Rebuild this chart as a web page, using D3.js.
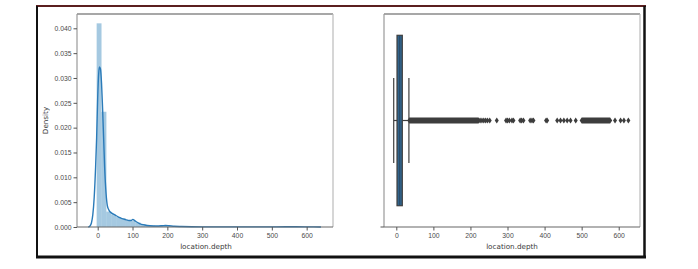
<!DOCTYPE html>
<html>
<head>
<meta charset="utf-8">
<script src="https://cdn.jsdelivr.net/npm/d3@7"></script>
<style>
  body { margin: 0; background: #fff; }
  svg { display: block; font-family: "DejaVu Sans", sans-serif; }
  .tick text { fill: #4a4a4a; font-size: 6.8px; }
  .tick line { stroke: #555; }
  .axis path.domain { display: none; }
  .lbl { fill: #3a3a3a; font-size: 7.2px; }
</style>
</head>
<body>
<svg id="chart" width="698" height="269"></svg>
<script>
// Histogram of location.depth (density per bin), bins start at -3 and are 14 wide
const binStart = -3;
const binWidth = 14;
const binDensity = [
  0.0410, 0.0232, 0.0031, 0.0025, 0.0020, 0.0017, 0.0014, 0.0012, 0.0009,
  0.0006, 0.0004, 0.0003, 0.0002, 0.0003, 0.0002, 0.0001, 0.0001, 0.00005,
  0.00004, 0.00004, 0.00003, 0.00003, 0.00003, 0.00003, 0.00002, 0.00002,
  0.00002, 0.00002, 0.00003, 0.00002, 0.00003, 0.00002, 0.00003, 0.00003,
  0.00003, 0.00004, 0.00006, 0.00007, 0.00007, 0.00006, 0.00006, 0.00004,
  0.00003, 0.00003, 0.00002
];

// KDE curve: [depth, density]
const kdeX = [-27, -22, -18, -14, -10, -6, -3, 0, 3, 5, 8, 11, 14, 17, 20, 24, 28, 33,
  40, 50, 60, 70, 80, 90, 96, 101, 106, 112, 120, 135, 150, 170, 185, 195, 205, 220,
  240, 270, 300, 350, 400, 450, 500, 540, 570, 600, 620, 641];
const kdeY = [0, 0.0002, 0.0008, 0.0025, 0.006, 0.012, 0.018, 0.026, 0.031, 0.0322,
  0.0318, 0.029, 0.024, 0.018, 0.012, 0.0068, 0.0042, 0.0033, 0.0028, 0.0024, 0.002,
  0.0017, 0.0015, 0.0013, 0.0013, 0.0015, 0.0013, 0.001, 0.0007, 0.0004, 0.00025,
  0.0002, 0.00025, 0.0003, 0.00025, 0.00015, 0.0001, 0.00005, 0.00003, 0.00002,
  0.00002, 0.00002, 0.00003, 0.00004, 0.00004, 0.00003, 0.00002, 0];

const yTicks = [0, 0.005, 0.010, 0.015, 0.020, 0.025, 0.030, 0.035, 0.040];
const xTicks = [0, 100, 200, 300, 400, 500, 600];

// Box plot summary
const boxStats = { whiskerLo: -7, q1: 1.9, median: 9, q3: 16.2, whiskerHi: 34 };
// outliers: dense runs (markers overlap into a band) and single points
const outlierRuns = [[35, 222], [500, 577]];
const outlierPoints = [226, 231, 236, 241, 246, 252, 271, 296, 300, 305, 312, 316,
  334, 338, 343, 361, 366, 370, 404, 407, 434, 443, 452, 461, 470, 484, 590, 605,
  614, 626];

const svg = d3.select('#chart');

// outer frame of the screenshot
svg.append('line').attr('x1', 36).attr('x2', 646).attr('y1', 6).attr('y2', 6)
  .attr('stroke', '#5b1f1f').attr('stroke-width', 2);
svg.append('line').attr('x1', 37).attr('x2', 37).attr('y1', 6).attr('y2', 258)
  .attr('stroke', '#111').attr('stroke-width', 2);
svg.append('line').attr('x1', 644.5).attr('x2', 644.5).attr('y1', 6).attr('y2', 258)
  .attr('stroke', '#111').attr('stroke-width', 2.5);
svg.append('line').attr('x1', 36).attr('x2', 646).attr('y1', 257).attr('y2', 257)
  .attr('stroke', '#111').attr('stroke-width', 3);

function spines(g, x0, x1, y0, y1) {
  g.append('line').attr('x1', x0).attr('x2', x1).attr('y1', y0).attr('y2', y0)
    .attr('stroke', '#8a8a8a').attr('stroke-width', 1.5);
  g.append('line').attr('x1', x1).attr('x2', x1).attr('y1', y0).attr('y2', y1)
    .attr('stroke', '#bbb').attr('stroke-width', 1.2);
  g.append('line').attr('x1', x0).attr('x2', x0).attr('y1', y0).attr('y2', y1)
    .attr('stroke', '#999').attr('stroke-width', 1.2);
  g.append('line').attr('x1', x0).attr('x2', x1).attr('y1', y1).attr('y2', y1)
    .attr('stroke', '#666').attr('stroke-width', 1.2);
}

function drawDist() {
  const L = 77, R = 333, T = 14, B = 227;
  const x = d3.scaleLinear().domain([-59.4, 675.6]).range([L, R]);
  const y = d3.scaleLinear().domain([0, 0.04288]).range([B, T]);
  const g = svg.append('g');

  g.selectAll('rect.bar').data(binDensity).join('rect')
    .attr('class', 'bar')
    .attr('x', (d, i) => x(binStart + i * binWidth))
    .attr('width', (d, i) => x(binStart + (i + 1) * binWidth) - x(binStart + i * binWidth))
    .attr('y', d => y(d))
    .attr('height', d => B - y(d))
    .attr('fill', '#1f77b4').attr('fill-opacity', 0.4);

  const kde = kdeX.map((v, i) => [v, kdeY[i]]);
  g.append('path').datum(kde)
    .attr('d', d3.line().x(d => x(d[0])).y(d => y(d[1])).curve(d3.curveMonotoneX))
    .attr('fill', 'none').attr('stroke', '#2b7bb9').attr('stroke-width', 1.4);

  spines(g, L, R, T, B);

  g.append('g').attr('class', 'axis').attr('transform', `translate(0,${B})`)
    .call(d3.axisBottom(x).tickValues(xTicks).tickSize(3.5).tickPadding(3));
  g.append('g').attr('class', 'axis').attr('transform', `translate(${L},0)`)
    .call(d3.axisLeft(y).tickValues(yTicks).tickFormat(d3.format('.3f')).tickSize(3.5).tickPadding(2));

  g.append('text').attr('class', 'lbl').attr('x', (L + R) / 2 + 1).attr('y', 249)
    .attr('text-anchor', 'middle').text('location.depth');
  g.append('text').attr('class', 'lbl')
    .attr('transform', `translate(48,${(T + B) / 2}) rotate(-90)`)
    .attr('text-anchor', 'middle').text('Density');
}

function drawBox() {
  const L = 384, R = 640, T = 14, B = 227;
  const x = d3.scaleLinear().domain([-33.2, 657.4]).range([L, R]);
  const y = d3.scaleBand().domain(['']).range([T, B]).padding(0);
  const g = svg.append('g');
  const cy = y('') + y.bandwidth() / 2;
  const bw = y.bandwidth() * 0.8;
  const edge = '#3f3f3f';

  // whiskers and caps
  g.append('line').attr('x1', x(boxStats.whiskerLo)).attr('x2', x(boxStats.q1))
    .attr('y1', cy).attr('y2', cy).attr('stroke', edge).attr('stroke-width', 1.2);
  g.append('line').attr('x1', x(boxStats.q3)).attr('x2', x(boxStats.whiskerHi))
    .attr('y1', cy).attr('y2', cy).attr('stroke', edge).attr('stroke-width', 1.2);
  [boxStats.whiskerLo, boxStats.whiskerHi].forEach(v => {
    g.append('line').attr('x1', x(v)).attr('x2', x(v))
      .attr('y1', cy - bw / 4).attr('y2', cy + bw / 4)
      .attr('stroke', edge).attr('stroke-width', 1.2);
  });

  g.append('rect')
    .attr('x', x(boxStats.q1)).attr('width', x(boxStats.q3) - x(boxStats.q1))
    .attr('y', cy - bw / 2).attr('height', bw)
    .attr('fill', '#30628a').attr('stroke', edge).attr('stroke-width', 1.2);
  g.append('line').attr('x1', x(boxStats.median)).attr('x2', x(boxStats.median))
    .attr('y1', cy - bw / 2).attr('y2', cy + bw / 2)
    .attr('stroke', '#2a4a66').attr('stroke-width', 1);

  // outliers, diamonds
  const hw = 2, hh = 3;
  g.selectAll('path.run').data(outlierRuns).join('path')
    .attr('class', 'run')
    .attr('d', d => `M${x(d[0]) - hw},${cy} L${x(d[0])},${cy - hh} L${x(d[1])},${cy - hh}
      L${x(d[1]) + hw},${cy} L${x(d[1])},${cy + hh} L${x(d[0])},${cy + hh} Z`)
    .attr('fill', '#3d3d3d');
  g.selectAll('path.pt').data(outlierPoints).join('path')
    .attr('class', 'pt')
    .attr('d', d => `M${x(d) - hw},${cy} L${x(d)},${cy - hh} L${x(d) + hw},${cy} L${x(d)},${cy + hh} Z`)
    .attr('fill', '#3d3d3d');

  spines(g, L, R, T, B);

  g.append('g').attr('class', 'axis').attr('transform', `translate(0,${B})`)
    .call(d3.axisBottom(x).tickValues(xTicks).tickSize(3.5).tickPadding(3));
  g.append('g').attr('class', 'axis').attr('transform', `translate(${L},0)`)
    .call(d3.axisLeft(y).tickSize(3.5).tickFormat(''))
    .selectAll('.tick line').attr('transform', `translate(0,${y.bandwidth() / 2})`);

  g.append('text').attr('class', 'lbl').attr('x', (L + R) / 2).attr('y', 249)
    .attr('text-anchor', 'middle').text('location.depth');
}

drawDist();
drawBox();
</script>
</body>
</html>
